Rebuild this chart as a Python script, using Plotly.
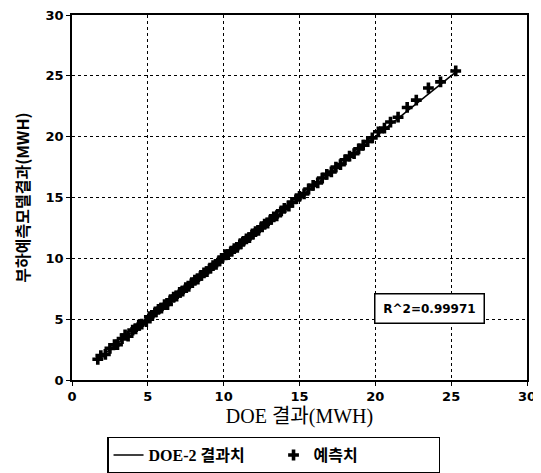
import plotly.graph_objects as go

# DOE-2 simulation results (MWH)
doe = [1.7, 1.9, 2.2, 2.5, 2.8, 3.0, 3.3, 3.5, 3.7, 4.0, 4.2, 4.4, 4.6, 4.9,
       5.1, 5.3, 5.5, 5.7, 5.9, 6.1, 6.3, 6.5, 6.7, 6.9, 7.1, 7.3, 7.5, 7.7,
       7.9, 8.1, 8.3, 8.5, 8.7, 8.9, 9.1, 9.3, 9.5, 9.7, 9.9, 10.1, 10.3,
       10.5, 10.7, 10.9, 11.1, 11.3, 11.5, 11.7, 11.9, 12.1, 12.3, 12.5, 12.7,
       12.9, 13.1, 13.3, 13.5, 13.8, 14.0, 14.3, 14.5, 14.8, 15.0, 15.3, 15.6,
       15.9, 16.2, 16.5, 16.8, 17.1, 17.4, 17.7, 18.0, 18.3, 18.6, 18.9, 19.2,
       19.5, 19.8, 20.2, 20.6, 21.0, 21.5, 22.1, 22.7, 23.5, 24.3, 25.3]
# Load prediction model results (MWH)
pred = [1.7, 2.0, 2.1, 2.6, 2.9, 2.9, 3.4, 3.7, 3.6, 4.1, 4.2, 4.5, 4.6, 4.8,
        5.2, 5.3, 5.6, 5.8, 5.9, 6.2, 6.2, 6.6, 6.8, 6.9, 7.2, 7.3, 7.6, 7.7,
        8.0, 8.2, 8.3, 8.6, 8.8, 8.9, 9.2, 9.4, 9.5, 9.8, 10.0, 10.3, 10.3,
        10.6, 10.8, 10.9, 11.2, 11.4, 11.6, 11.7, 12.0, 12.2, 12.3, 12.6, 12.8,
        12.9, 13.2, 13.4, 13.5, 13.9, 14.1, 14.3, 14.6, 14.9, 15.1, 15.3, 15.7,
        16.0, 16.2, 16.6, 16.9, 17.1, 17.5, 17.7, 18.1, 18.4, 18.6, 19.0, 19.3,
        19.6, 19.9, 20.4, 20.7, 21.2, 21.6, 22.4, 23.0, 24.0, 24.5, 25.4]

x_ticks = [0, 5, 10, 15, 20, 25, 30]
y_ticks = [0, 5, 10, 15, 20, 25, 30]
r2_text = "R^2=0.99971"

fig = go.Figure()
fig.add_trace(go.Scatter(
    x=doe, y=doe, mode="lines", name="DOE-2 결과치",
    line=dict(color="black", width=1.5)))
fig.add_trace(go.Scatter(
    x=doe, y=pred, mode="markers", name="예측치",
    marker=dict(symbol="cross", size=9, color="black")))

axis_common = dict(
    showline=True, linecolor="black", linewidth=1.5, mirror=True,
    showgrid=True, gridcolor="black", gridwidth=1, griddash="dot",
    ticks="outside", ticklen=4, tickcolor="black", zeroline=False,
    automargin=False, ticklabeloverflow="allow",
    tickfont=dict(family="DejaVu Sans", size=13, color="black", weight="bold"),
)

fig.update_xaxes(range=[0, 30], tickvals=x_ticks, **axis_common,
                 title=dict(text="DOE 결과(MWH)", standoff=6,
                            font=dict(family="Liberation Serif, Noto Sans CJK KR", size=20, color="black")))
fig.update_yaxes(range=[0, 30], tickvals=y_ticks, **axis_common,
                 title=dict(text="부하예측모델결과(MWH)", standoff=12,
                            font=dict(family="Noto Sans CJK KR", size=16, color="black", weight="bold")))

fig.add_annotation(x=23.6, y=5.9, xref="x", yref="y", text=r2_text,
                   showarrow=False, bordercolor="black", borderwidth=1.5,
                   bgcolor="white", width=106, height=26,
                   font=dict(family="DejaVu Sans", size=12, color="black", weight="bold"))

fig.update_layout(
    width=541, height=473,
    margin=dict(l=64, r=22, t=7, b=101, autoexpand=False),
    paper_bgcolor="white", plot_bgcolor="white",
    showlegend=True,
    legend=dict(orientation="h", x=0.077, y=-0.155, xanchor="left", yanchor="top",
                bordercolor="black", borderwidth=1.5, bgcolor="white",
                entrywidth=120, itemwidth=30,
                font=dict(family="Liberation Serif, Noto Sans CJK KR", size=16, color="black", weight="bold")),
)

fig.write_html("out.html")
